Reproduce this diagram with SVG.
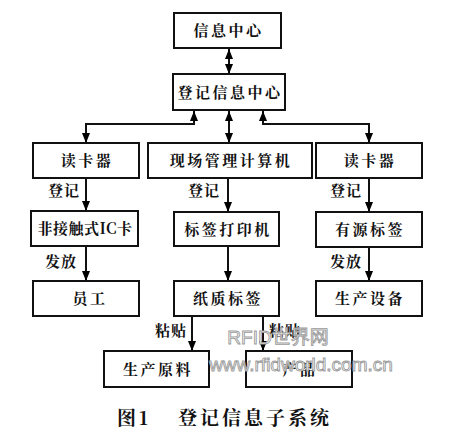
<svg xmlns="http://www.w3.org/2000/svg" width="469" height="437" viewBox="0 0 469 437">
<defs>
<marker id="ah" viewBox="0 0 10 10" refX="10" refY="5" markerWidth="10" markerHeight="10" markerUnits="userSpaceOnUse" orient="auto-start-reverse">
<path d="M0,1 L10,5 L0,9 Z" fill="#000"/>
</marker>
<style>
.box{fill:#fff;stroke:#111;stroke-width:2}
.t{font-family:"Noto Serif CJK SC","Noto Sans CJK SC","Liberation Serif",serif;font-size:15px;font-weight:bold;fill:#111;text-anchor:middle;letter-spacing:2.5px}
.lb{font-family:"Noto Serif CJK SC","Noto Sans CJK SC","Liberation Serif",serif;font-size:15px;font-weight:bold;fill:#111;letter-spacing:1px}
.ln{fill:none;stroke:#111;stroke-width:2}
.wm{font-family:"Liberation Sans","Noto Sans CJK SC",sans-serif;fill:#fff;stroke:#9a9a9a;stroke-width:0.9;text-anchor:middle}
</style>
</defs>
<rect width="469" height="437" fill="#fff"/>
<g id="connectors">
<line class="ln" x1="229" y1="49" x2="229" y2="74" marker-start="url(#ah)" marker-end="url(#ah)"/>
<polyline class="ln" points="194,111 194,124 86,124 86,143" marker-start="url(#ah)" marker-end="url(#ah)"/>
<line class="ln" x1="229" y1="111" x2="229" y2="143" marker-start="url(#ah)" marker-end="url(#ah)"/>
<polyline class="ln" points="263,111 263,124 369,124 369,143" marker-start="url(#ah)" marker-end="url(#ah)"/>
<line class="ln" x1="86" y1="178" x2="86" y2="211" marker-end="url(#ah)"/>
<line class="ln" x1="228" y1="178" x2="228" y2="212" marker-end="url(#ah)"/>
<line class="ln" x1="369" y1="178" x2="369" y2="212" marker-end="url(#ah)"/>
<line class="ln" x1="86" y1="246" x2="86" y2="281" marker-end="url(#ah)"/>
<line class="ln" x1="228" y1="246" x2="228" y2="281" marker-end="url(#ah)"/>
<line class="ln" x1="369" y1="247" x2="369" y2="281" marker-end="url(#ah)"/>
<line class="ln" x1="192" y1="316" x2="192" y2="351" marker-end="url(#ah)"/>
<line class="ln" x1="263" y1="316" x2="263" y2="351" marker-end="url(#ah)"/>
<text class="lb" x="48" y="196">登记</text>
<text class="lb" x="188" y="196">登记</text>
<text class="lb" x="330" y="196">登记</text>
<text class="lb" x="45" y="267">发放</text>
<text class="lb" x="330" y="267">发放</text>
<text class="lb" x="155" y="336">粘贴</text>
<text class="lb" x="269" y="336">粘贴</text>
</g>
<g id="n1"><rect class="box" x="174" y="13" width="107" height="35"/><text class="t" x="228.5" y="36">信息中心</text></g>
<g id="n2"><rect class="box" x="173" y="74" width="112" height="36"/><text class="t" x="230" y="98">登记信息中心</text></g>
<g id="n3"><rect class="box" x="33" y="143" width="106" height="35"/><text class="t" x="87" y="166">读卡器</text></g>
<g id="n4"><rect class="box" x="148" y="143" width="164" height="35"/><text class="t" x="231" y="166">现场管理计算机</text></g>
<g id="n5"><rect class="box" x="316" y="143" width="106" height="35"/><text class="t" x="370" y="166">读卡器</text></g>
<g id="n6"><rect class="box" x="31" y="211" width="107" height="35"/><text class="t" x="85" y="234" style="letter-spacing:0.5px">非接触式IC卡</text></g>
<g id="n7"><rect class="box" x="174" y="212" width="105" height="34"/><text class="t" x="228" y="235">标签打印机</text></g>
<g id="n8"><rect class="box" x="316" y="212" width="106" height="35"/><text class="t" x="370" y="235">有源标签</text></g>
<g id="n9"><rect class="box" x="33" y="281" width="106" height="35"/><text class="t" x="90" y="304">员工</text></g>
<g id="n10"><rect class="box" x="174" y="281" width="105" height="35"/><text class="t" x="228" y="304">纸质标签</text></g>
<g id="n11"><rect class="box" x="316" y="281" width="106" height="35"/><text class="t" x="370" y="304">生产设备</text></g>
<g id="n12"><rect class="box" x="104" y="351" width="105" height="36"/><text class="t" x="158" y="375">生产原料</text></g>
<g id="n13"><rect class="box" x="246" y="351" width="106" height="36"/><text class="t" x="300" y="375">产品</text></g>
<g id="watermark">
<text class="wm" x="278" y="344" font-size="19">RFID世界网</text>
<text class="wm" x="301" y="371" font-size="19">www.rfidworld.com.cn</text>
</g>
<text x="117" y="425" font-family="'Noto Serif CJK SC','Noto Sans CJK SC','Liberation Serif',serif" font-size="19" font-weight="bold" fill="#111" letter-spacing="3">图1</text>
<text x="178" y="425" font-family="'Noto Serif CJK SC','Noto Sans CJK SC','Liberation Serif',serif" font-size="19" font-weight="bold" fill="#111" letter-spacing="3">登记信息子系统</text>
</svg>
